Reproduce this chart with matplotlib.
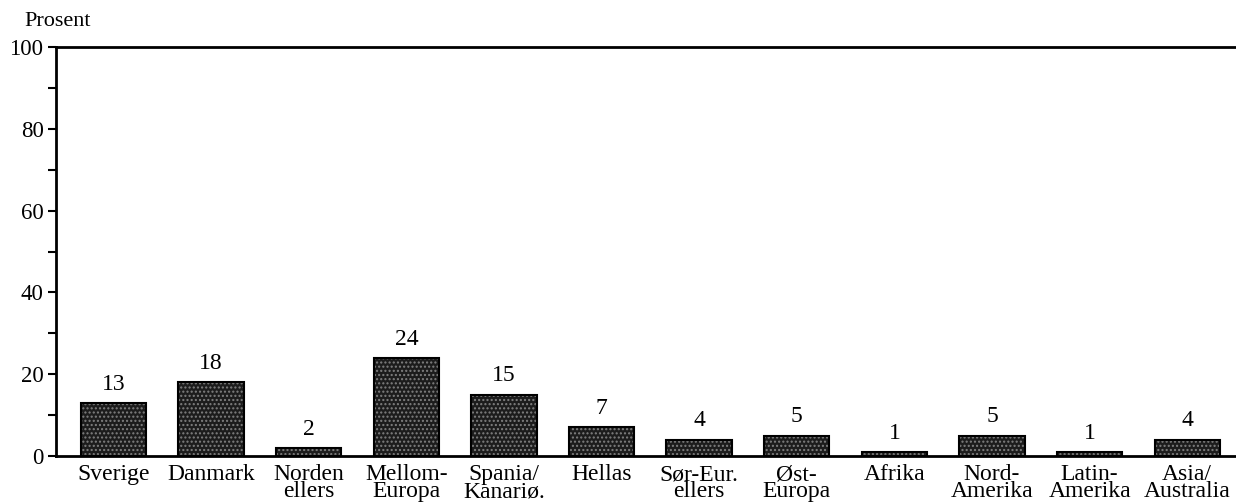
import matplotlib.pyplot as plt
from matplotlib.ticker import MultipleLocator

categories = ["Sverige", "Danmark", "Norden\nellers", "Mellom-\nEuropa", "Spania/\nKanariø.",
              "Hellas", "Sør-Eur.\nellers", "Øst-\nEuropa", "Afrika", "Nord-\nAmerika",
              "Latin-\nAmerika", "Asia/\nAustralia"]
values = [13, 18, 2, 24, 15, 7, 4, 5, 1, 5, 1, 4]
yticks = [0, 20, 40, 60, 80, 100]

plt.rcParams["font.family"] = ["Liberation Serif", "DejaVu Serif"]
plt.rcParams["hatch.linewidth"] = 1.0

fig = plt.figure(figsize=(12.36, 5.03), dpi=100)
ax = fig.add_axes([56 / 1236, 1 - 456 / 503, (1236 - 56) / 1236, (456 - 47) / 503])

x = list(range(len(categories)))
# dark fill with light stipple, then a black outline on top
ax.bar(x, values, width=0.67, facecolor="#1c1c1c", edgecolor="#808080", hatch="....", linewidth=0)
ax.bar(x, values, width=0.67, fill=False, edgecolor="black", linewidth=1.5)

for xi, v in zip(x, values):
    ax.text(xi, v + 2.0, str(v), ha="center", va="bottom", fontsize=17)

ax.set_xlim(-0.59, 11.5)
ax.set_ylim(0, 100)
ax.set_yticks(yticks)
ax.yaxis.set_minor_locator(MultipleLocator(10))
ax.tick_params(axis="y", which="both", direction="out", length=6, width=1.5, labelsize=16.5, pad=3)
ax.set_xticks(x)
ax.set_xticklabels(categories, fontsize=17, linespacing=0.75, va="top")
ax.tick_params(axis="x", length=0, pad=6)

for side in ["left", "bottom", "top"]:
    ax.spines[side].set_linewidth(2)
ax.spines["right"].set_visible(False)

fig.text(24 / 1236, 1 - 21 / 503, "Prosent", fontsize=16, va="center", ha="left")

fig.savefig("out.png", dpi=100)
